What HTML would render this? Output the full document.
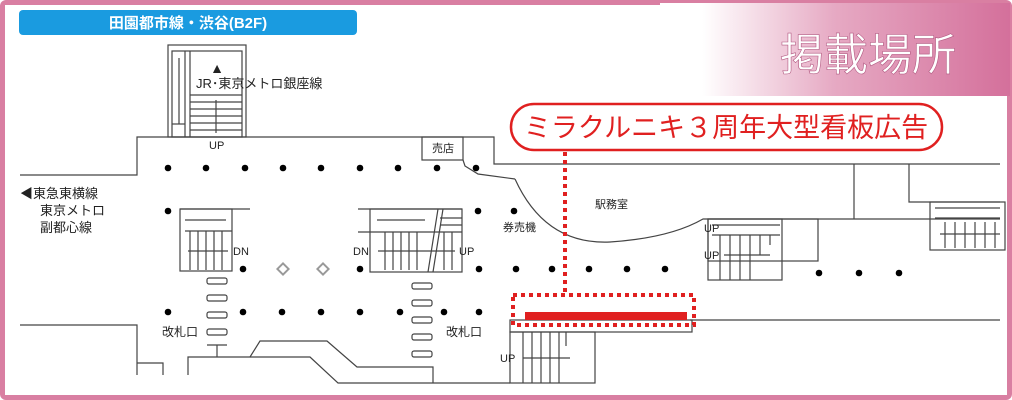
<!DOCTYPE html>
<html><head><meta charset="utf-8"><style>
html,body{margin:0;padding:0;width:1012px;height:400px;overflow:hidden;background:#fff}
svg{display:block}
text{font-family:"Liberation Sans","Noto Sans CJK JP",sans-serif}
</style></head><body>
<svg width="1012" height="400" viewBox="0 0 1012 400" xmlns="http://www.w3.org/2000/svg">
<defs><linearGradient id="g" x1="0" x2="1" y1="0" y2="0">
<stop offset="0" stop-color="#fff"/><stop offset="0.12" stop-color="#fff"/><stop offset="0.5" stop-color="#e6a9c3"/><stop offset="1" stop-color="#d4709b"/></linearGradient></defs>
<rect x="0" y="0" width="1012" height="400" fill="#d97fa2" rx="6"/>
<rect x="5" y="5" width="1002" height="390" fill="#fff"/>
<rect x="660" y="3" width="350" height="93" fill="url(#g)"/>
<text x="780" y="70" font-size="44" fill="#fff" stroke="#b35a82" stroke-width="0.6">掲載場所</text>
<rect x="19" y="10" width="338" height="25" rx="4" fill="#1a9be0"/>
<text x="188" y="28" font-size="15" font-weight="bold" fill="#fff" text-anchor="middle">田園都市線・渋谷(B2F)</text>

<g fill="none" stroke="#444" stroke-width="1.2">
<!-- top stairs -->
<rect x="168" y="45" width="78" height="92"/>
<rect x="172" y="51" width="70" height="86"/>
<line x1="185" y1="51" x2="185" y2="137"/><line x1="190" y1="51" x2="190" y2="137"/>
<line x1="190" y1="95" x2="242" y2="95"/><line x1="190" y1="102" x2="242" y2="102"/><line x1="190" y1="109" x2="242" y2="109"/><line x1="190" y1="116" x2="242" y2="116"/><line x1="190" y1="123" x2="242" y2="123"/><line x1="190" y1="130" x2="242" y2="130"/>
<line x1="179" y1="58" x2="179" y2="124"/><line x1="172" y1="124" x2="185" y2="124"/>
<line x1="216" y1="100" x2="216" y2="133"/>
<!-- main walls -->
<polyline points="20,175 137,175 137,137 494,137 494,164 1000,164"/>
<rect x="422" y="137" width="41" height="23"/>
<polyline points="463,160 465,166 478,174 515,179"/>
<path d="M515,179 Q545,245 610,242 Q670,238 703,219 L1000,219"/>
<line x1="854" y1="164" x2="854" y2="219"/>
<polyline points="909,164 909,202 1000,202"/>
<!-- right stairs -->
<rect x="708" y="219" width="110" height="42"/>
<rect x="708" y="219" width="74" height="61"/>
<line x1="712" y1="225" x2="780" y2="225"/><line x1="712" y1="235" x2="780" y2="235"/>
<line x1="720" y1="235" x2="720" y2="280"/><line x1="730" y1="235" x2="730" y2="280"/><line x1="740" y1="235" x2="740" y2="280"/><line x1="750" y1="235" x2="750" y2="280"/><line x1="760" y1="235" x2="760" y2="255"/><line x1="770" y1="235" x2="770" y2="245"/>
<line x1="724" y1="255" x2="770" y2="255"/>
<!-- far right stairs -->
<rect x="930" y="202" width="75" height="48"/>
<line x1="935" y1="208" x2="1000" y2="208"/><line x1="935" y1="218" x2="1000" y2="218"/>
<line x1="945" y1="222" x2="945" y2="248"/><line x1="955" y1="222" x2="955" y2="248"/><line x1="965" y1="222" x2="965" y2="248"/><line x1="975" y1="222" x2="975" y2="248"/><line x1="985" y1="222" x2="985" y2="248"/><line x1="995" y1="222" x2="995" y2="248"/>
<line x1="940" y1="234" x2="1000" y2="234"/>
<!-- left stairs -->
<rect x="180" y="209" width="52" height="62"/>
<line x1="180" y1="209" x2="250" y2="209"/>
<line x1="185" y1="220" x2="226" y2="220"/><line x1="185" y1="231" x2="232" y2="231"/>
<line x1="190" y1="231" x2="190" y2="270"/><line x1="198" y1="231" x2="198" y2="270"/><line x1="206" y1="231" x2="206" y2="270"/><line x1="214" y1="231" x2="214" y2="270"/><line x1="222" y1="231" x2="222" y2="270"/>
<line x1="188" y1="251" x2="228" y2="251"/>
<!-- middle stairs -->
<line x1="358" y1="209" x2="462" y2="209"/>
<rect x="370" y="209" width="92" height="63"/>
<line x1="358" y1="232" x2="462" y2="232"/>
<line x1="377" y1="220" x2="425" y2="220"/>
<line x1="428" y1="272" x2="438" y2="209"/><line x1="433" y1="272" x2="443" y2="209"/>
<line x1="440" y1="218" x2="462" y2="218"/><line x1="440" y1="225" x2="462" y2="225"/>
<line x1="385" y1="232" x2="385" y2="270"/><line x1="393" y1="232" x2="393" y2="270"/><line x1="401" y1="232" x2="401" y2="270"/><line x1="409" y1="232" x2="409" y2="270"/><line x1="417" y1="232" x2="417" y2="270"/>
<line x1="444" y1="232" x2="444" y2="270"/><line x1="452" y1="232" x2="452" y2="270"/>
<line x1="378" y1="251" x2="455" y2="251"/>
<!-- gates -->
<rect x="207" y="278" width="20" height="6" rx="2"/><rect x="207" y="295" width="20" height="6" rx="2"/><rect x="207" y="312" width="20" height="6" rx="2"/><rect x="207" y="329" width="20" height="6" rx="2"/>
<rect x="412" y="283" width="20" height="6" rx="2"/><rect x="412" y="300" width="20" height="6" rx="2"/><rect x="412" y="317" width="20" height="6" rx="2"/><rect x="412" y="334" width="20" height="6" rx="2"/><rect x="412" y="351" width="20" height="6" rx="2"/>
<polyline points="207,345 227,345"/><line x1="217" y1="345" x2="217" y2="357"/>
<!-- bottom left -->
<polyline points="20,325 137,325 137,375"/><polyline points="137,363 163,363 163,375"/>
<polyline points="188,375 188,357 250,357 260,341 327,341 357,367 433,367 433,383"/>
<polyline points="250,357 310,357 338,383 510,383"/>
<!-- bottom stairs -->
<line x1="690" y1="320" x2="1000" y2="320"/>
<rect x="510" y="320" width="182" height="12"/>
<rect x="510" y="332" width="85" height="51"/>
<line x1="523" y1="332" x2="523" y2="383"/><line x1="532" y1="332" x2="532" y2="383"/><line x1="541" y1="332" x2="541" y2="383"/><line x1="550" y1="332" x2="550" y2="383"/><line x1="559" y1="332" x2="559" y2="383"/><line x1="566" y1="332" x2="566" y2="346"/>
<line x1="523" y1="358" x2="570" y2="358"/>
</g>
<g fill="#999"><path d="M283,262 l7,7 -7,7 -7,-7z"/><path d="M323,262 l7,7 -7,7 -7,-7z"/></g>
<g fill="#fff"><rect x="280" y="266" width="6" height="6" transform="rotate(45 283 269)"/><rect x="320" y="266" width="6" height="6" transform="rotate(45 323 269)"/></g>
<g fill="#000">
<circle cx="168" cy="168" r="3.3"/><circle cx="206" cy="168" r="3.3"/><circle cx="245" cy="168" r="3.3"/><circle cx="283" cy="168" r="3.3"/><circle cx="321" cy="168" r="3.3"/><circle cx="360" cy="168" r="3.3"/><circle cx="398" cy="168" r="3.3"/><circle cx="437" cy="168" r="3.3"/><circle cx="476" cy="168" r="3.3"/>
<circle cx="168" cy="211" r="3.3"/><circle cx="478" cy="211" r="3.3"/><circle cx="514" cy="211" r="3.3"/>
<circle cx="243" cy="269" r="3.3"/><circle cx="360" cy="269" r="3.3"/><circle cx="479" cy="269" r="3.3"/><circle cx="516" cy="269" r="3.3"/><circle cx="552" cy="269" r="3.3"/><circle cx="589" cy="269" r="3.3"/><circle cx="627" cy="269" r="3.3"/><circle cx="665" cy="269" r="3.3"/>
<circle cx="819" cy="273" r="3.3"/><circle cx="859" cy="273" r="3.3"/><circle cx="899" cy="273" r="3.3"/>
<circle cx="168" cy="312" r="3.3"/><circle cx="243" cy="312" r="3.3"/><circle cx="282" cy="312" r="3.3"/><circle cx="321" cy="312" r="3.3"/><circle cx="360" cy="312" r="3.3"/><circle cx="400" cy="312" r="3.3"/><circle cx="444" cy="312" r="3.3"/><circle cx="479" cy="312" r="3.3"/>
</g>
<g font-size="11" fill="#222">
<text x="217" y="73" font-size="14" text-anchor="middle">▲</text>
<text x="196" y="88" font-size="13">JR･東京メトロ銀座線</text>
<text x="209" y="149">UP</text>
<text x="432" y="152">売店</text>
<text x="20" y="198" font-size="13">◀東急東横線</text>
<text x="40" y="215" font-size="13">東京メトロ</text>
<text x="40" y="232" font-size="13">副都心線</text>
<text x="233" y="255">DN</text><text x="353" y="255">DN</text><text x="459" y="255">UP</text>
<text x="162" y="336" font-size="12">改札口</text><text x="446" y="336" font-size="12">改札口</text>
<text x="503" y="231">券売機</text>
<text x="595" y="208">駅務室</text>
<text x="704" y="232">UP</text><text x="704" y="259">UP</text><text x="500" y="362">UP</text>
</g>
<rect x="525" y="312" width="162" height="8" fill="#e02020"/>
<rect x="513" y="295" width="181" height="30" fill="none" stroke="#e02020" stroke-width="4" stroke-dasharray="4 4"/>
<line x1="565" y1="152" x2="565" y2="294" stroke="#e02020" stroke-width="4" stroke-dasharray="4 4"/>
<rect x="511" y="104" width="431" height="46" rx="23" fill="#fff" stroke="#e02020" stroke-width="2.5"/>
<text x="726" y="137" font-size="27" fill="#e02020" text-anchor="middle">ミラクルニキ３周年大型看板広告</text>
</svg>
</body></html>
